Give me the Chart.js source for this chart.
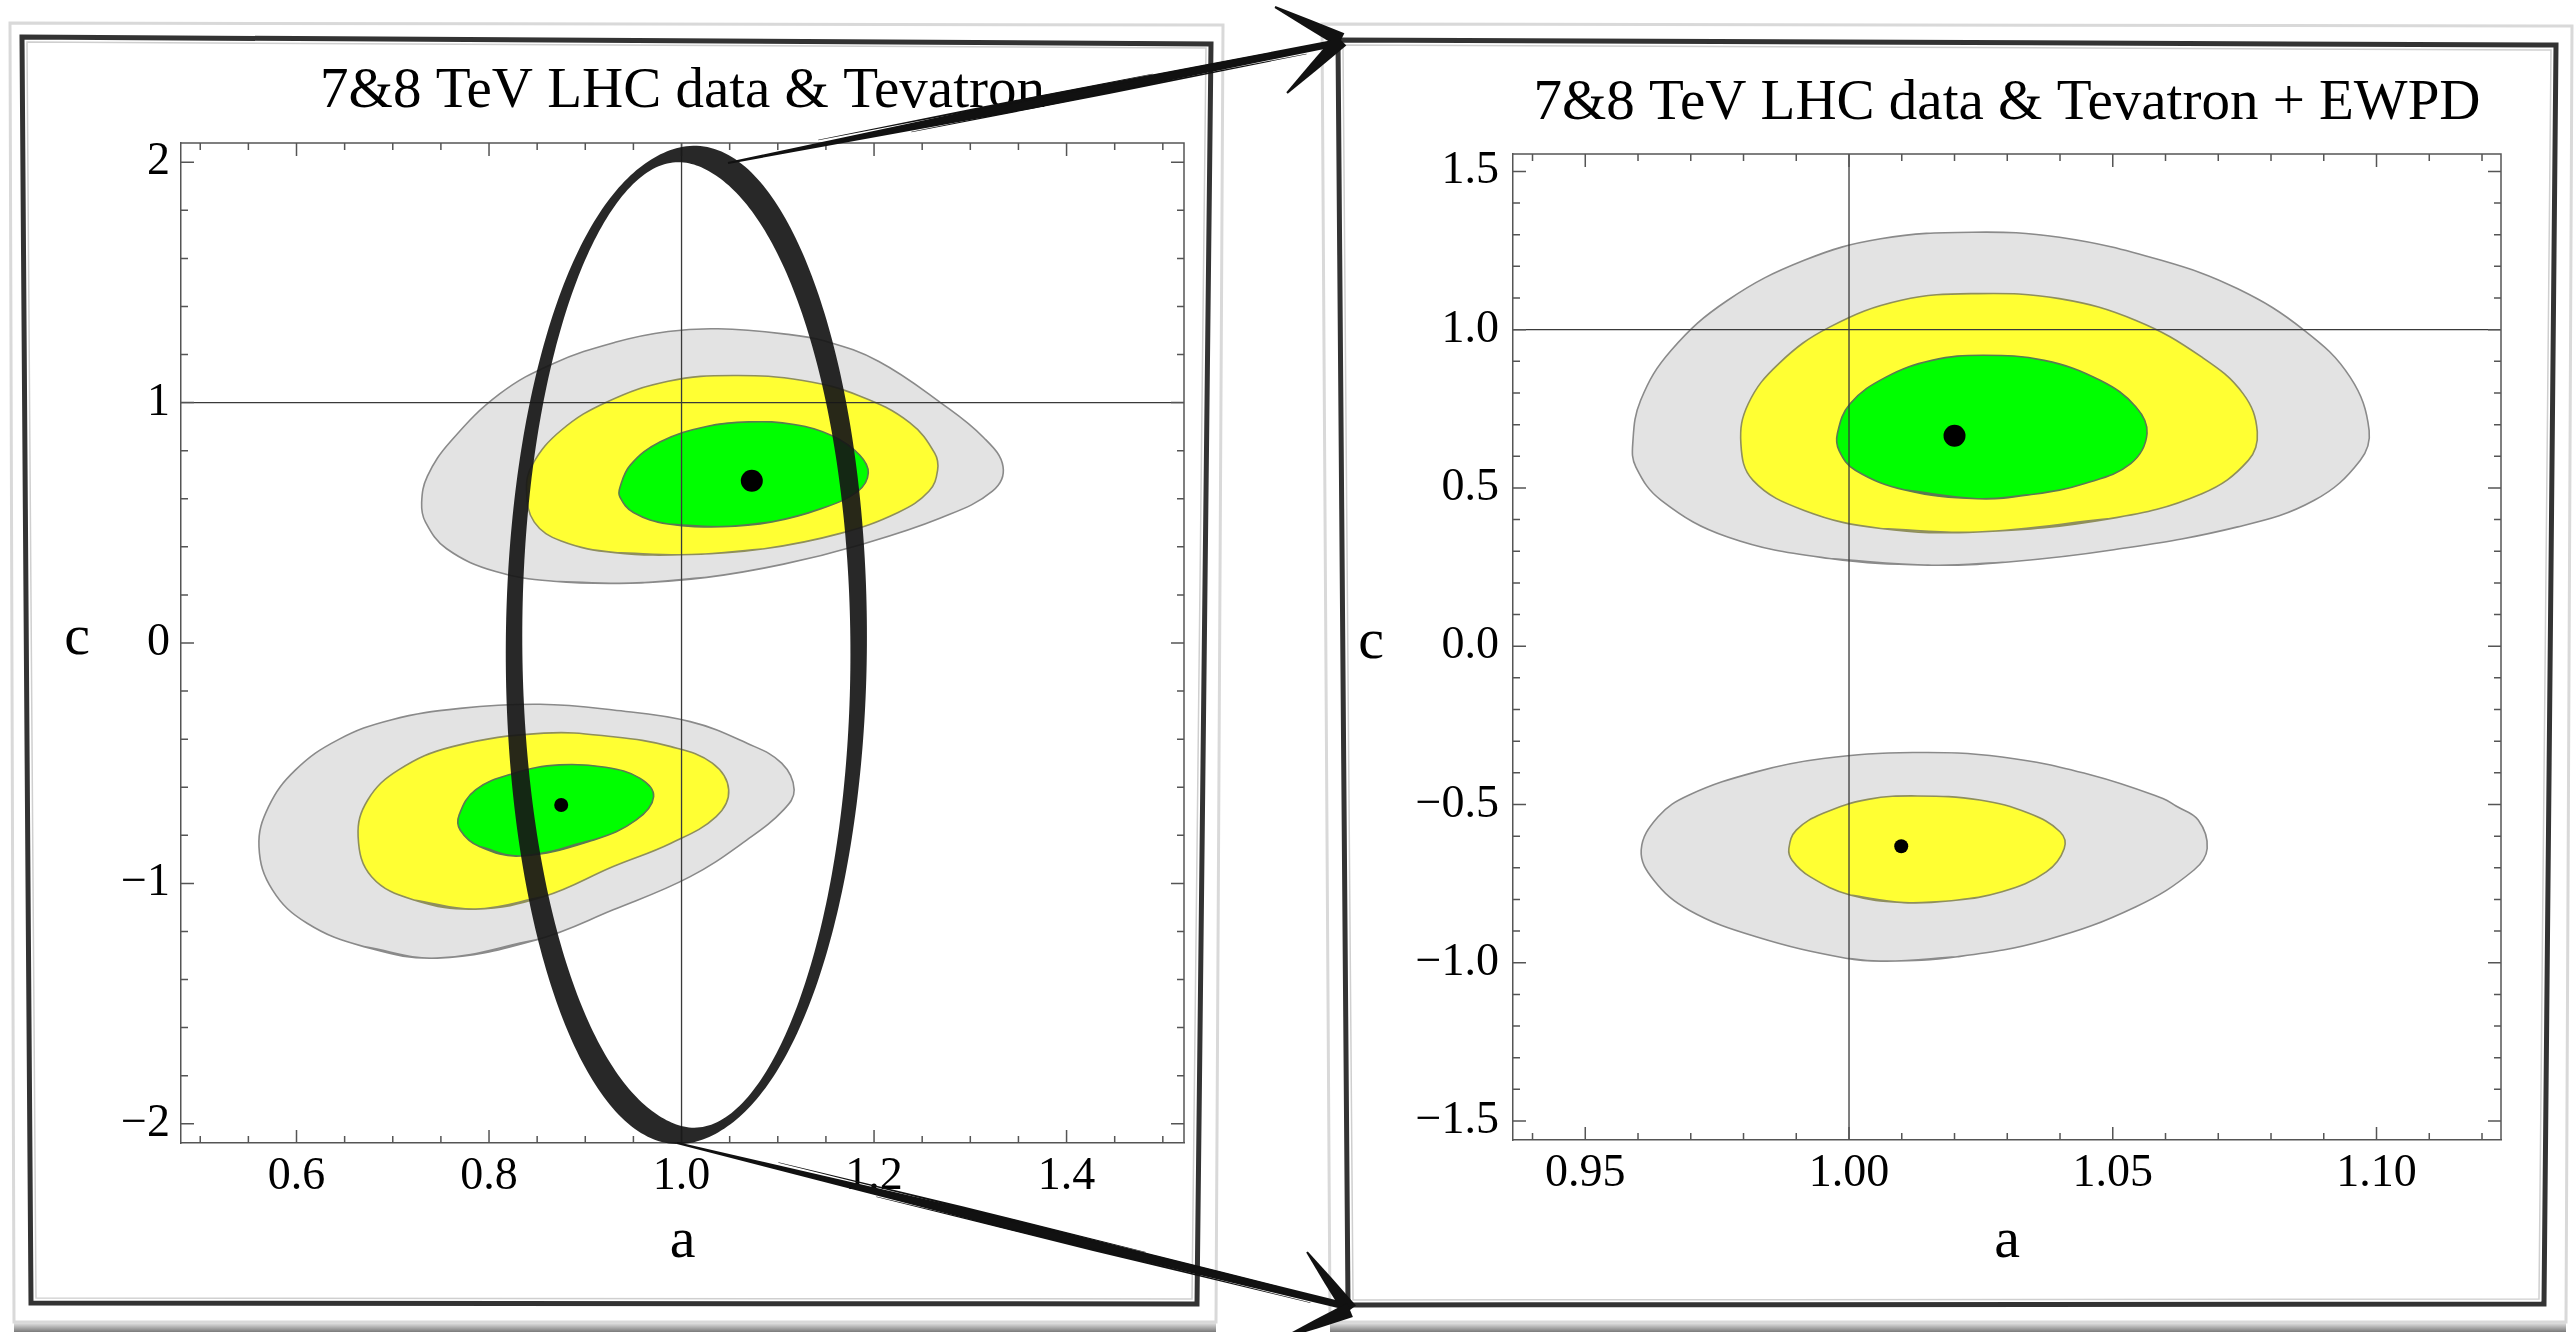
<!DOCTYPE html>
<html>
<head>
<meta charset="utf-8">
<script src="https://cdn.jsdelivr.net/npm/chart.js@4.4.1/dist/chart.umd.min.js"></script>
<style>
html, body { margin: 0; padding: 0; background: #fff; overflow: hidden; width: 2575px; height: 1332px; }
canvas { position: absolute; top: 0; }
#leftChart { left: 0; }
#rightChart { left: 1300px; }
#deco { position: absolute; left: 0; top: 0; pointer-events: none; }
</style>
</head>
<body>
<canvas id="leftChart" width="1300" height="1332"></canvas>
<canvas id="rightChart" width="1275" height="1332"></canvas>
<svg id="deco" width="2575" height="1332" xmlns="http://www.w3.org/2000/svg">
  <defs>
    <linearGradient id="shade" x1="0" y1="0" x2="0" y2="1">
      <stop offset="0" stop-color="#e0e0e0"/>
      <stop offset="1" stop-color="#7a7a7a"/>
    </linearGradient>
  </defs>
  <rect x="14" y="1323" width="1202" height="9" fill="url(#shade)"/>
  <rect x="1330" y="1323" width="1236" height="9" fill="url(#shade)"/>
  <polygon points="10,23 1223,25 1216,1322 14,1322" fill="none" stroke="#d9d9d9" stroke-width="3"/>
  <polygon points="22,37 1211,44 1197,1304 31,1303" fill="none" stroke="#333" stroke-width="5"/>
  <polygon points="27,42 1206,48 1192,1299 36,1298" fill="none" stroke="#cfcfcf" stroke-width="1.5"/>
  <polygon points="1322,24 2572,26 2566,1322 1330,1322" fill="none" stroke="#d9d9d9" stroke-width="3"/>
  <polygon points="1338,40 2556,45 2544,1304 1348,1305" fill="none" stroke="#333" stroke-width="5"/>
  <polygon points="1343,45 2551,50 2539,1299 1353,1300" fill="none" stroke="#cfcfcf" stroke-width="1.5"/>
  <g id="arrows" fill="#111"></g>
</svg>
<script>
// panel titles and axis names
var leftTitle = '7&8 TeV LHC data & Tevatron';
var rightTitle = '7&8 TeV LHC data & Tevatron + EWPD';
var xName = 'a';
var yName = 'c';

// left panel axes
var leftXRange = [0.48, 1.522];
var leftYRange = [-2.08, 2.08];
var leftXTicks = [0.6, 0.8, 1.0, 1.2, 1.4];
var leftXLabels = ['0.6', '0.8', '1.0', '1.2', '1.4'];
var leftYTicks = [-2, -1, 0, 1, 2];
var leftYLabels = ['\u22122', '\u22121', '0', '1', '2'];
var leftXStep = 0.05;
var leftYStep = 0.2;

// right panel axes
var rightXRange = [0.9363, 1.1236];
var rightYRange = [-1.56, 1.555];
var rightXTicks = [0.95, 1.00, 1.05, 1.10];
var rightXLabels = ['0.95', '1.00', '1.05', '1.10'];
var rightYTicks = [-1.5, -1.0, -0.5, 0.0, 0.5, 1.0, 1.5];
var rightYLabels = ['\u22121.5', '\u22121.0', '\u22120.5', '0.0', '0.5', '1.0', '1.5'];
var rightXStep = 0.01;
var rightYStep = 0.1;

// reference lines a = 1, c = 1
var refA = 1;
var refC = 1;

// left panel contours [a, c]
var upperGrayL = [[0.947,0.249],[0.867,0.257],[0.807,0.297],[0.756,0.392],[0.734,0.503],[0.730,0.583],[0.736,0.694],[0.760,0.838],[0.811,1.036],[0.867,1.163],[0.931,1.251],[0.986,1.296],[1.038,1.307],[1.106,1.286],[1.150,1.255],[1.205,1.171],[1.269,1.000],[1.314,0.854],[1.334,0.734],[1.323,0.632],[1.269,0.520],[1.185,0.408],[1.106,0.328],[1.026,0.273],[0.947,0.249]];
var upperYellowL = [[1.010,0.368],[0.931,0.376],[0.875,0.424],[0.847,0.503],[0.839,0.631],[0.845,0.742],[0.875,0.885],[0.923,1.004],[0.986,1.089],[1.054,1.113],[1.126,1.092],[1.185,1.028],[1.237,0.917],[1.263,0.790],[1.266,0.718],[1.257,0.631],[1.225,0.543],[1.165,0.456],[1.086,0.392],[1.010,0.368]];
var upperGreenL = [[1.042,0.484],[0.986,0.495],[0.950,0.543],[0.936,0.607],[0.936,0.647],[0.947,0.741],[0.978,0.837],[1.026,0.901],[1.070,0.920],[1.117,0.909],[1.157,0.861],[1.185,0.782],[1.194,0.707],[1.183,0.631],[1.145,0.559],[1.094,0.504],[1.042,0.484]];
var lowerGrayL = [[0.746,-1.311],[0.670,-1.263],[0.611,-1.166],[0.575,-1.027],[0.561,-0.847],[0.571,-0.681],[0.599,-0.528],[0.643,-0.403],[0.698,-0.320],[0.770,-0.272],[0.853,-0.255],[0.929,-0.279],[1.009,-0.327],[1.068,-0.417],[1.104,-0.500],[1.117,-0.611],[1.106,-0.694],[1.068,-0.819],[1.009,-0.972],[0.929,-1.110],[0.849,-1.235],[0.746,-1.311]];
var lowerYellowL = [[0.786,-1.107],[0.722,-1.069],[0.678,-0.972],[0.664,-0.805],[0.674,-0.653],[0.706,-0.528],[0.762,-0.431],[0.857,-0.375],[0.929,-0.390],[0.989,-0.431],[1.032,-0.500],[1.049,-0.611],[1.036,-0.722],[0.989,-0.833],[0.929,-0.930],[0.857,-1.055],[0.786,-1.107]];
var lowerGreenL = [[0.833,-0.886],[0.790,-0.847],[0.770,-0.778],[0.769,-0.715],[0.786,-0.611],[0.826,-0.542],[0.873,-0.507],[0.921,-0.517],[0.957,-0.563],[0.971,-0.639],[0.953,-0.736],[0.909,-0.819],[0.833,-0.886]];
var bestL = [[1.073, 0.675], [0.875, -0.674]];
var bestSizeL = [11, 7];

// right panel contours [a, c]
var upperGrayR = [[1.0157,0.256],[0.9963,0.277],[0.9770,0.345],[0.9644,0.461],[0.9596,0.566],[0.9590,0.640],[0.9605,0.777],[0.9663,0.935],[0.9770,1.093],[0.9915,1.219],[1.0060,1.287],[1.0234,1.308],[1.0399,1.292],[1.0592,1.219],[1.0737,1.129],[1.0863,0.998],[1.0950,0.850],[1.0986,0.682],[1.0969,0.587],[1.0882,0.461],[1.0737,0.377],[1.0495,0.303],[1.0302,0.266],[1.0157,0.256]];
var upperYellowR = [[1.0244,0.361],[1.0060,0.372],[0.9915,0.429],[0.9818,0.524],[0.9795,0.640],[0.9809,0.766],[0.9867,0.893],[0.9963,1.008],[1.0099,1.093],[1.0244,1.114],[1.0399,1.098],[1.0544,1.029],[1.0669,0.913],[1.0747,0.798],[1.0774,0.677],[1.0757,0.587],[1.0669,0.482],[1.0495,0.403],[1.0244,0.361]];
var upperGreenR = [[1.0244,0.466],[1.0108,0.493],[1.0012,0.556],[0.9981,0.619],[0.9978,0.672],[1.0002,0.766],[1.0070,0.850],[1.0157,0.903],[1.0254,0.919],[1.0370,0.903],[1.0476,0.840],[1.0544,0.756],[1.0565,0.672],[1.0534,0.577],[1.0447,0.514],[1.0350,0.480],[1.0244,0.466]];
var lowerGrayR = [[1.0070,-0.995],[0.9994,-0.986],[0.9824,-0.918],[0.9697,-0.834],[0.9630,-0.739],[0.9606,-0.644],[0.9638,-0.539],[0.9697,-0.470],[0.9824,-0.397],[0.9951,-0.355],[1.0121,-0.336],[1.0290,-0.350],[1.0459,-0.407],[1.0595,-0.481],[1.0620,-0.505],[1.0662,-0.549],[1.0679,-0.639],[1.0654,-0.707],[1.0544,-0.823],[1.0374,-0.928],[1.0205,-0.981],[1.0070,-0.995]];
var lowerYellowR = [[1.0104,-0.810],[1.0002,-0.786],[0.9926,-0.728],[0.9892,-0.676],[0.9886,-0.639],[0.9900,-0.581],[0.9951,-0.528],[1.0036,-0.484],[1.0129,-0.473],[1.0248,-0.486],[1.0341,-0.528],[1.0400,-0.586],[1.0408,-0.639],[1.0374,-0.713],[1.0290,-0.776],[1.0188,-0.805],[1.0104,-0.810]];
var bestR = [[1.0200, 0.665], [1.0099, -0.632]];
var bestSizeR = [11, 7];

// hand drawn ellipse on the left panel: centre, half axes, pen width range in px
var ellipseCenter = [1.005, -0.008];
var ellipseRadii = [0.179, 2.04];
var penWidth = [8, 25];

var FONT = "'Liberation Serif', 'Times New Roman', serif";
var grayFill = '#e3e3e3', yellowFill = '#ffff33', greenFill = '#00ff00';
var grayLine = '#8a8a8a', yellowLine = '#8f8f5c', greenLine = '#5a7a52';

function tickList(range, step) {
  var out = [];
  var n0 = Math.ceil(range[0] / step - 1e-9), n1 = Math.floor(range[1] / step + 1e-9);
  for (var n = n0; n <= n1; n++) out.push({ value: +(n * step).toFixed(4) });
  return out;
}

function labelFor(v, majors, labels) {
  for (var i = 0; i < majors.length; i++) {
    if (Math.abs(v - majors[i]) < 1e-6) return labels[i];
  }
  return '';
}

// closed contour: wrap one point on each end so the smoothed curve has no kink at the seam
function region(points, fill, line, order) {
  var u = points.slice(0, -1);
  var loop = [u[u.length - 1]].concat(u, [u[0], u[1]]);
  return {
    data: loop.map(function (p) { return { x: p[0], y: p[1] }; }),
    showLine: true, fill: 'shape', backgroundColor: fill, borderColor: line,
    borderWidth: 1.6, pointRadius: 0, pointHoverRadius: 0, tension: 0.4, order: order
  };
}

function refLine(pts) {
  return {
    data: pts, showLine: true, fill: false, borderColor: '#3a3a3a', borderWidth: 1.3,
    pointRadius: 0, pointHoverRadius: 0, order: 1
  };
}

function bestPoints(pts, sizes) {
  return {
    data: pts.map(function (p) { return { x: p[0], y: p[1] }; }),
    showLine: false, pointRadius: sizes, pointBackgroundColor: '#000', pointBorderWidth: 0, order: 0
  };
}

function axis(range, step, majors, labels, isX, size, pad) {
  var s = {
    type: 'linear', min: range[0], max: range[1],
    afterBuildTicks: function (sc) { sc.ticks = tickList(range, step); },
    afterFit: function (sc) { if (isX) sc.height = size; else sc.width = size; },
    grid: { display: false, drawTicks: false },
    border: { display: true, color: '#555', width: 1.5 },
    ticks: {
      autoSkip: false, maxRotation: 0, minRotation: 0, padding: pad, color: '#000',
      font: { family: FONT, size: 46 },
      callback: function (v) { return labelFor(v, majors, labels); }
    }
  };
  if (isX) {
    s.title = { display: true, text: xName, color: '#000', font: { family: FONT, size: 58 }, padding: { top: 0, bottom: 55 } };
  }
  return s;
}

// mirrored frame, inward ticks and the upright "c" label
var frameTicks = {
  id: 'frameTicks',
  afterDatasetsDraw: function (chart, args, opts) {
    var ctx = chart.ctx, a = chart.chartArea, xs = chart.scales.x, ys = chart.scales.y;
    ctx.save();
    ctx.strokeStyle = '#555';
    ctx.lineWidth = 1.5;
    ctx.beginPath();
    ctx.moveTo(a.left, a.top); ctx.lineTo(a.right, a.top); ctx.lineTo(a.right, a.bottom);
    xs.ticks.forEach(function (t) {
      var px = xs.getPixelForValue(t.value), len = t.label ? 13 : 7;
      ctx.moveTo(px, a.bottom); ctx.lineTo(px, a.bottom - len);
      ctx.moveTo(px, a.top); ctx.lineTo(px, a.top + len);
    });
    ys.ticks.forEach(function (t) {
      var py = ys.getPixelForValue(t.value), len = t.label ? 13 : 7;
      ctx.moveTo(a.left, py); ctx.lineTo(a.left + len, py);
      ctx.moveTo(a.right, py); ctx.lineTo(a.right - len, py);
    });
    ctx.stroke();
    ctx.fillStyle = '#000';
    ctx.font = '58px ' + FONT;
    ctx.textAlign = 'center';
    ctx.textBaseline = 'middle';
    ctx.fillText(yName, opts.labelX, (a.top + a.bottom) / 2 - 4);
    ctx.restore();
  }
};

// ellipse drawn like a slanted pen: strokes heading down-right are thickest
var ellipseMark = {
  id: 'ellipseMark',
  afterDraw: function (chart) {
    var xs = chart.scales.x, ys = chart.scales.y, ctx = chart.ctx;
    var cx = xs.getPixelForValue(ellipseCenter[0]), cy = ys.getPixelForValue(ellipseCenter[1]);
    var rx = Math.abs(xs.getPixelForValue(ellipseCenter[0] + ellipseRadii[0]) - cx);
    var ry = Math.abs(ys.getPixelForValue(ellipseCenter[1] + ellipseRadii[1]) - cy);
    var outer = [], inner = [], n = 360;
    for (var k = 0; k < n; k++) {
      var th = 2 * Math.PI * k / n;
      var px = cx + rx * Math.cos(th), py = cy + ry * Math.sin(th);
      var tx = -rx * Math.sin(th), ty = ry * Math.cos(th), tl = Math.hypot(tx, ty);
      tx /= tl; ty /= tl;
      var d = (tx + ty) / Math.SQRT2;
      var w = penWidth[0] + (penWidth[1] - penWidth[0]) * d * d;
      var nx = ty, ny = -tx;
      outer.push([px - nx * w / 2, py - ny * w / 2]);
      inner.push([px + nx * w / 2, py + ny * w / 2]);
    }
    ctx.save();
    ctx.beginPath();
    [outer, inner].forEach(function (ring) {
      ring.forEach(function (p, j) { if (j) ctx.lineTo(p[0], p[1]); else ctx.moveTo(p[0], p[1]); });
      ctx.closePath();
    });
    ctx.fillStyle = 'rgba(22,22,22,0.92)';
    ctx.fill('evenodd');
    ctx.restore();
  }
};

function makeChart(id, o) {
  return new Chart(document.getElementById(id), {
    type: 'scatter',
    data: { datasets: o.datasets },
    options: {
      responsive: false, animation: false, events: [],
      layout: { padding: { left: 0, right: o.padRight, top: 0, bottom: 0 } },
      scales: {
        x: axis(o.xRange, o.xStep, o.xTicks, o.xLabels, true, o.xHeight, 6),
        y: axis(o.yRange, o.yStep, o.yTicks, o.yLabels, false, o.yWidth, o.yPad)
      },
      plugins: {
        legend: { display: false },
        tooltip: { enabled: false },
        title: {
          display: true, text: o.title, fullSize: false, align: 'center', color: '#000',
          font: { family: FONT, size: 57, weight: 'normal', lineHeight: 1.2 },
          padding: { top: o.titleTop, bottom: o.titleBottom }
        },
        frameTicks: { labelX: o.cX }
      }
    },
    plugins: o.extra
  });
}

makeChart('leftChart', {
  title: leftTitle,
  xRange: leftXRange, yRange: leftYRange, xStep: leftXStep, yStep: leftYStep,
  xTicks: leftXTicks, xLabels: leftXLabels, yTicks: leftYTicks, yLabels: leftYLabels,
  padRight: 116, xHeight: 189, yWidth: 181, yPad: 11, titleTop: 57.8, titleBottom: 16.8, cX: 77,
  datasets: [
    region(upperGrayL, grayFill, grayLine, 4),
    region(lowerGrayL, grayFill, grayLine, 4),
    region(upperYellowL, yellowFill, yellowLine, 3),
    region(lowerYellowL, yellowFill, yellowLine, 3),
    region(upperGreenL, greenFill, greenLine, 2),
    region(lowerGreenL, greenFill, greenLine, 2),
    refLine([{ x: refA, y: leftYRange[0] }, { x: refA, y: leftYRange[1] }]),
    refLine([{ x: leftXRange[0], y: refC }, { x: leftXRange[1], y: refC }]),
    bestPoints(bestL, bestSizeL)
  ],
  extra: [frameTicks, ellipseMark]
});

makeChart('rightChart', {
  title: rightTitle,
  xRange: rightXRange, yRange: rightYRange, xStep: rightXStep, yStep: rightYStep,
  xTicks: rightXTicks, xLabels: rightXLabels, yTicks: rightYTicks, yLabels: rightYLabels,
  padRight: 74, xHeight: 192, yWidth: 213, yPad: 14, titleTop: 69.8, titleBottom: 15.8, cX: 71,
  datasets: [
    region(upperGrayR, grayFill, grayLine, 4),
    region(lowerGrayR, grayFill, grayLine, 4),
    region(upperYellowR, yellowFill, yellowLine, 3),
    region(lowerYellowR, yellowFill, yellowLine, 3),
    region(upperGreenR, greenFill, greenLine, 2),
    refLine([{ x: refA, y: rightYRange[0] }, { x: refA, y: rightYRange[1] }]),
    refLine([{ x: rightXRange[0], y: refC }, { x: rightXRange[1], y: refC }]),
    bestPoints(bestR, bestSizeR)
  ],
  extra: [frameTicks]
});

// sketched arrows linking the panels
function taper(p0, p1, w0, wm, w1) {
  var dx = p1[0] - p0[0], dy = p1[1] - p0[1], L = Math.hypot(dx, dy);
  var nx = -dy / L, ny = dx / L;
  var pm = [(p0[0] + p1[0]) / 2, (p0[1] + p1[1]) / 2];
  var pts = [[p0, w0], [pm, wm], [p1, w1]];
  var side1 = pts.map(function (q) { return [q[0][0] + nx * q[1] / 2, q[0][1] + ny * q[1] / 2]; });
  var side2 = pts.map(function (q) { return [q[0][0] - nx * q[1] / 2, q[0][1] - ny * q[1] / 2]; }).reverse();
  return side1.concat(side2).map(function (q) { return q[0].toFixed(1) + ',' + q[1].toFixed(1); }).join(' ');
}

var arrows = [
  { from: [728, 163], to: [1336, 43], tip: [1341, 40], wings: [[1275, 7], [1287, 93]] },
  { from: [677, 1143], to: [1345, 1306], tip: [1350, 1310], wings: [[1307, 1252], [1283, 1338]] }
];
var g = document.getElementById('arrows');
var svgNS = 'http://www.w3.org/2000/svg';
arrows.forEach(function (ar) {
  var parts = [taper(ar.from, ar.to, 2, 11, 7)];
  [[-5, 0.15, 0.7], [5, 0.3, 0.95], [-3, 0.45, 0.9]].forEach(function (s) {
    var dx = ar.to[0] - ar.from[0], dy = ar.to[1] - ar.from[1], L = Math.hypot(dx, dy);
    var nx = -dy / L * s[0], ny = dx / L * s[0];
    var a = [ar.from[0] + dx * s[1] + nx, ar.from[1] + dy * s[1] + ny];
    var b = [ar.from[0] + dx * s[2] + nx, ar.from[1] + dy * s[2] + ny];
    parts.push(taper(a, b, 0.5, 2.5, 0.5));
  });
  ar.wings.forEach(function (w) { parts.push(taper(ar.tip, w, 15, 9, 2)); });
  parts.forEach(function (p) {
    var poly = document.createElementNS(svgNS, 'polygon');
    poly.setAttribute('points', p);
    g.appendChild(poly);
  });
});
</script>
</body>
</html>
